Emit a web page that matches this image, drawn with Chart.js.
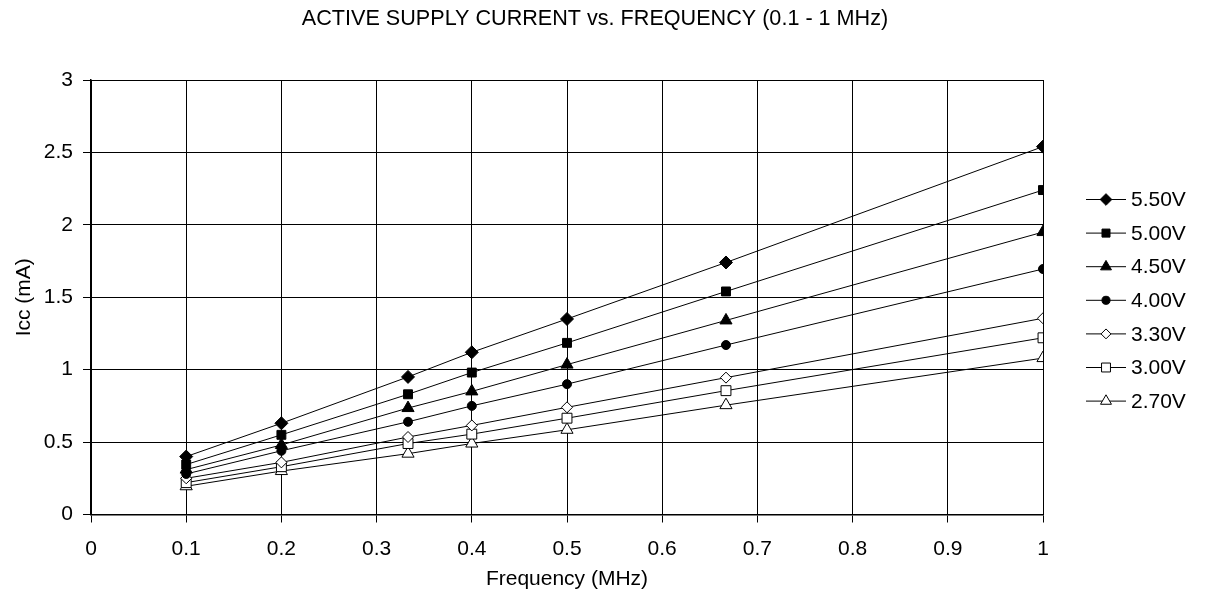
<!DOCTYPE html>
<html lang="en">
<head>
    <meta charset="UTF-8">
    <title>Active Supply Current vs. Frequency</title>
    <script src="https://cdn.jsdelivr.net/npm/chart.js"></script>
    <style>
        body {
            margin: 0;
            background: white;
        }
        canvas {
            display: block;
        }
    </style>
</head>
<body>
    <canvas id="iccChart" width="1205" height="596"></canvas>

    <script>
        // frequency points (MHz)
        const freqs = [0.1, 0.2, 0.333, 0.4, 0.5, 0.667, 1];

        const voltLabels = ["5.50V", "5.00V", "4.50V", "4.00V", "3.30V", "3.00V", "2.70V"];

        // Icc (mA) per supply voltage
        const icc550 = [0.40, 0.63, 0.95, 1.12, 1.35, 1.74, 2.54];
        const icc500 = [0.345, 0.55, 0.83, 0.98, 1.185, 1.54, 2.24];
        const icc450 = [0.31, 0.48, 0.735, 0.85, 1.035, 1.34, 1.95];
        const icc400 = [0.28, 0.44, 0.64, 0.75, 0.90, 1.17, 1.695];
        const icc330 = [0.25, 0.36, 0.535, 0.615, 0.74, 0.945, 1.355];
        const icc300 = [0.22, 0.33, 0.49, 0.555, 0.665, 0.855, 1.22];
        const icc270 = [0.195, 0.30, 0.42, 0.49, 0.585, 0.755, 1.08];

        const xTicks = [0, 0.1, 0.2, 0.3, 0.4, 0.5, 0.6, 0.7, 0.8, 0.9, 1];
        const yTicks = [0, 0.5, 1, 1.5, 2, 2.5, 3];

        const chartTitle = "ACTIVE SUPPLY CURRENT vs. FREQUENCY (0.1 - 1 MHz)";

        const allSeries = [icc550, icc500, icc450, icc400, icc330, icc300, icc270];
        const markers = [
            { style: "rectRot", radius: 6.5, fill: "#000" },
            { style: "rect", radius: 6.3, fill: "#000" },
            { style: "triangle", radius: 7, fill: "#000" },
            { style: "circle", radius: 4.5, fill: "#000" },
            { style: "rectRot", radius: 5.5, fill: "#fff" },
            { style: "rect", radius: 7, fill: "#fff" },
            { style: "triangle", radius: 7, fill: "#fff" }
        ];

        const fontFamily = "'Liberation Sans', Arial, sans-serif";
        const fmt = v => String(+Number(v).toFixed(1));

        const datasets = allSeries.map((vals, i) => ({
            label: voltLabels[i],
            data: vals.map((v, j) => ({ x: freqs[j], y: v })),
            borderColor: "#000",
            borderWidth: 1,
            backgroundColor: markers[i].fill,
            pointStyle: markers[i].style,
            pointRadius: markers[i].radius,
            pointBorderColor: "#000",
            pointBorderWidth: 1,
            pointBackgroundColor: markers[i].fill,
            tension: 0
        }));

        // title centred over the page + legend with line and marker on the right
        const extras = {
            id: "extras",
            afterDraw(chart) {
                const ctx = chart.ctx;
                ctx.save();
                ctx.fillStyle = "#000";
                ctx.textBaseline = "middle";
                ctx.textAlign = "center";
                ctx.font = "21.6px " + fontFamily;
                ctx.fillText(chartTitle, 595, 19);

                ctx.textAlign = "left";
                ctx.font = "21px " + fontFamily;
                voltLabels.forEach((lbl, i) => {
                    const y = 199.5 + i * 33.6;
                    ctx.strokeStyle = "#000";
                    ctx.lineWidth = 1;
                    ctx.beginPath();
                    ctx.moveTo(1086, y);
                    ctx.lineTo(1126, y);
                    ctx.stroke();
                    ctx.fillStyle = markers[i].fill;
                    Chart.helpers.drawPoint(ctx, {
                        pointStyle: markers[i].style,
                        radius: markers[i].radius * 0.9,
                        borderWidth: 1
                    }, 1106, y);
                    ctx.fillStyle = "#000";
                    ctx.fillText(lbl, 1131, y + 1);
                });
                ctx.restore();
            }
        };

        new Chart(document.getElementById("iccChart"), {
            type: "line",
            data: { datasets: datasets },
            options: {
                responsive: false,
                animation: false,
                layout: { padding: { left: 0, right: 162, top: 80, bottom: 0 } },
                plugins: {
                    legend: { display: false },
                    tooltip: { enabled: false },
                    title: { display: false }
                },
                scales: {
                    x: {
                        type: "linear",
                        min: 0,
                        max: 1,
                        afterBuildTicks: s => { s.ticks = xTicks.map(v => ({ value: v })); },
                        afterFit: s => { s.height = 81.5; },
                        ticks: {
                            color: "#000",
                            font: { family: fontFamily, size: 21 },
                            padding: 14,
                            maxRotation: 0,
                            callback: fmt
                        },
                        grid: { color: "#000", lineWidth: 1, tickLength: 8 },
                        border: { color: "#000", width: 1.5 },
                        title: {
                            display: true,
                            text: "Frequency (MHz)",
                            color: "#000",
                            font: { family: fontFamily, size: 21 },
                            padding: { top: 6 }
                        }
                    },
                    y: {
                        min: 0,
                        max: 3,
                        afterBuildTicks: s => { s.ticks = yTicks.map(v => ({ value: v })); },
                        afterFit: s => { s.width = 91; },
                        ticks: {
                            color: "#000",
                            font: { family: fontFamily, size: 21 },
                            padding: 10,
                            callback: fmt
                        },
                        grid: { color: "#000", lineWidth: 1, tickLength: 8 },
                        border: { color: "#000", width: 1.5 },
                        title: {
                            display: true,
                            text: "Icc (mA)",
                            color: "#000",
                            font: { family: fontFamily, size: 21 },
                            padding: { top: 12, bottom: 0 }
                        }
                    }
                }
            },
            plugins: [extras]
        });
    </script>
</body>
</html>
